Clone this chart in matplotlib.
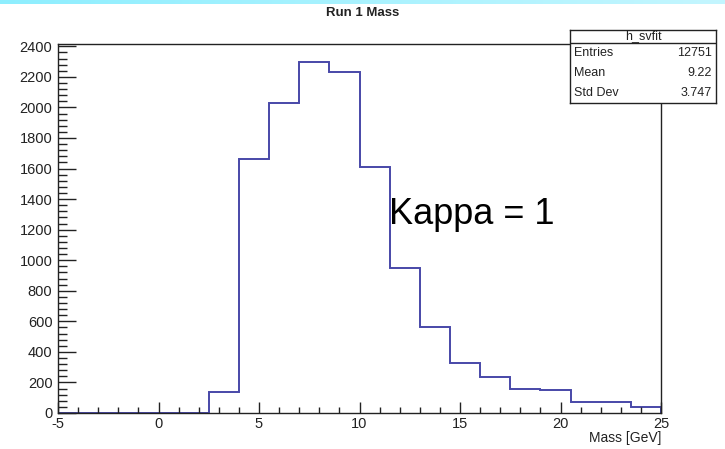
import matplotlib
matplotlib.use("Agg")
import matplotlib.pyplot as plt
import numpy as np
from matplotlib.ticker import MultipleLocator

plt.rcParams["font.family"] = ["Liberation Sans", "DejaVu Sans"]
plt.rcParams["axes.unicode_minus"] = False

# histogram data
bin_edges = [-5, -3.5, -2, -0.5, 1, 2.5, 4, 5.5, 7, 8.5, 10,
             11.5, 13, 14.5, 16, 17.5, 19, 20.5, 22, 23.5, 25]
bin_counts = [0, 0, 0, 0, 0, 135, 1660, 2030, 2300, 2230,
              1610, 950, 560, 330, 235, 160, 150, 75, 75, 40]

stats_labels = ["Entries", "Mean", "Std Dev"]
stats_values = ["12751", "9.22", "3.747"]

W, H = 725, 449
fig = plt.figure(figsize=(W / 100, H / 100), dpi=100)
fig.patch.set_facecolor("white")

# thin cyan band at the very top (slide background)
band = fig.add_axes([0, 1 - 4 / H, 1, 4 / H])
grad = np.linspace(0, 1, 256).reshape(1, -1)
band.imshow(grad, aspect="auto", extent=[0, 1, 0, 1],
            cmap=matplotlib.colors.LinearSegmentedColormap.from_list(
                "band", ["#8eeefe", "#c4f6ff"]))
band.set_axis_off()

# main axes
left, right, top, bottom = 58, 661, 44, 413
ax = fig.add_axes([left / W, 1 - bottom / H, (right - left) / W, (bottom - top) / H])
ax.stairs(bin_counts, bin_edges, color="#4848a8", linewidth=1.4, zorder=1.5)
ax.set_xlim(-5, 25)
ax.set_ylim(0, 2415)

ax.xaxis.set_major_locator(MultipleLocator(5))
ax.xaxis.set_minor_locator(MultipleLocator(1))
ax.yaxis.set_major_locator(MultipleLocator(200))
ax.yaxis.set_minor_locator(MultipleLocator(40))
ax.tick_params(axis="x", which="major", direction="in", length=8, width=1,
               labelsize=10.5, pad=3, color="#222222", labelcolor="#222222")
ax.tick_params(axis="x", which="minor", direction="in", length=4, width=1,
               color="#222222")
ax.tick_params(axis="y", which="major", direction="in", length=13, width=1,
               labelsize=10.5, pad=4, color="#222222", labelcolor="#222222")
ax.tick_params(axis="y", which="minor", direction="in", length=6.5, width=1,
               color="#222222")
for sp in ax.spines.values():
    sp.set_linewidth(1)
    sp.set_color("#222222")

ax.set_xlabel("Mass [GeV]", fontsize=10, loc="right", labelpad=0,
              color="#222222")
fig.text(0.5, 1 - 13 / H, "Run 1 Mass", ha="center", va="center",
         fontsize=9.5, fontweight="bold", color="#222222")

ax.text(389 / W, 1 - 215 / H, "Kappa = 1", transform=fig.transFigure,
        ha="left", va="center", fontsize=26, color="black")

# stats box
bx0, bx1, by0, by1 = 570, 716, 30, 103
sb = fig.add_axes([bx0 / W, 1 - by1 / H, (bx1 - bx0) / W, (by1 - by0) / H])
sb.set_xlim(0, 1)
sb.set_ylim(0, 1)
sb.set_xticks([])
sb.set_yticks([])
sb.set_facecolor("white")
for sp in sb.spines.values():
    sp.set_linewidth(1)
    sp.set_color("#222222")
head_y = 1 - (43 - by0) / (by1 - by0)
sb.axhline(head_y, color="#222222", linewidth=1)
sb.text(0.5, (1 + head_y) / 2, "h_svfit", ha="center", va="center",
        fontsize=9, color="#222222")
row_h = head_y / 3
for i, (lab, val) in enumerate(zip(stats_labels, stats_values)):
    yy = head_y - row_h * (i + 0.5)
    sb.text(0.03, yy, lab, ha="left", va="center", fontsize=9, color="#222222")
    sb.text(0.97, yy, val, ha="right", va="center", fontsize=9, color="#222222")

fig.savefig("out.png", dpi=100)
